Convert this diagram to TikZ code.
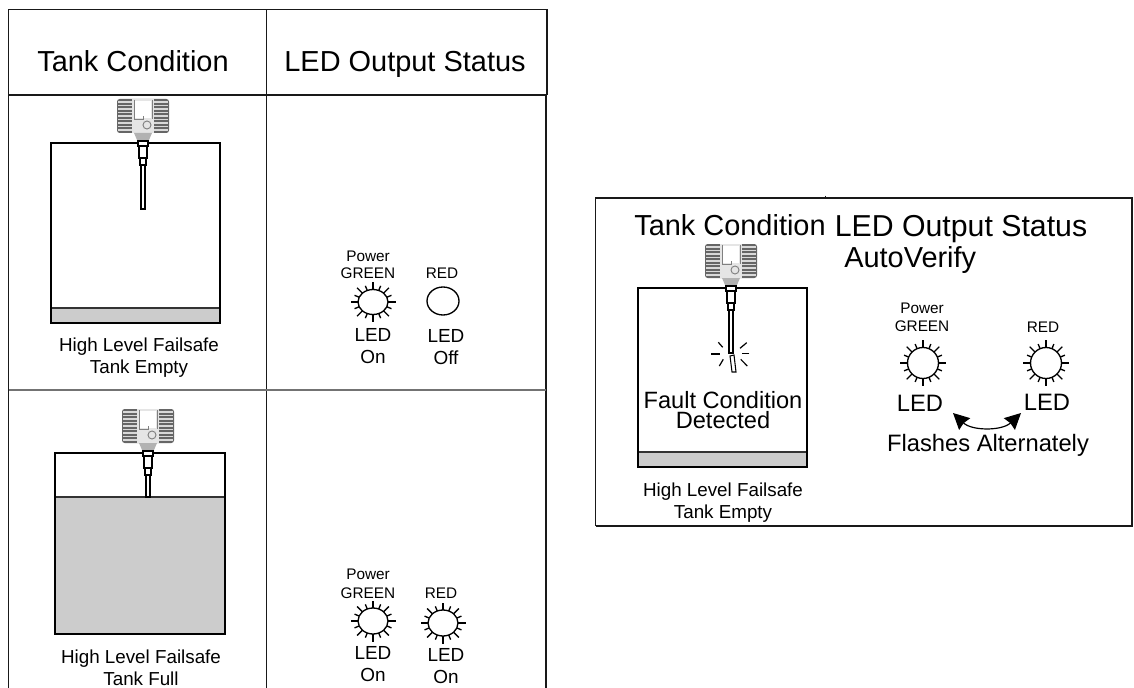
\documentclass[tikz,border=0pt]{standalone}
\usepackage{fontspec}
\setmainfont{Liberation Sans}
\usetikzlibrary{arrows.meta,positioning}
\tikzstyle{big} = [inner sep=0pt, text height=15.6pt, text depth=0pt, execute at begin node=\fontsize{21.7}{22}\selectfont]
\tikzstyle{bigger} = [inner sep=0pt, text height=16.3pt, text depth=0pt, execute at begin node=\fontsize{22.7}{23}\selectfont]
\tikzstyle{fault} = [inner sep=0pt, text height=12.7pt, text depth=0pt, execute at begin node=\fontsize{17.7}{18}\selectfont]
\tikzstyle{mid} = [inner sep=0pt, text height=12.8pt, text depth=0pt, execute at begin node=\fontsize{17.8}{18}\selectfont]
\tikzstyle{led} = [inner sep=0pt, text height=10.2pt, text depth=0pt, execute at begin node=\fontsize{14.2}{15}\selectfont]
\tikzstyle{caption} = [inner sep=0pt, text height=10.2pt, text depth=0pt, execute at begin node=\fontsize{14.1}{15}\selectfont]
\tikzstyle{tiny label} = [inner sep=0pt, text height=8.3pt, text depth=0pt, execute at begin node=\fontsize{11.5}{12}\selectfont]
\tikzstyle{frame} = [draw=black!90, line width=1.1pt]
\tikzstyle{tank} = [draw=black, line width=1.1pt]
\tikzstyle{liquid} = [draw=black!80, line width=0.9pt, fill=black!20]
\tikzstyle{rod} = [draw=black, line width=0.8pt, fill=white]
\tikzstyle{line} = [draw, line width=0.9pt, {Stealth[length=12pt,width=12pt,inset=1pt]}-{Stealth[length=12pt,width=12pt,inset=1pt]}]
% transmitter head and probe, origin where the probe enters the tank
\newcommand{\transmitter}[2]{
	\begin{scope}[shift={#1}]
		\fill[black!60, rounded corners=2pt] (-26,-44) rectangle (26,-10);
		\foreach \s in {-41,-37.5,...,-13} {
			\draw[black!15, line width=0.8pt] (-25,\s) -- (-11,\s);
			\draw[black!15, line width=0.8pt] (11,\s) -- (25,\s);
		}
		\fill[black!10] (-11,-44) rectangle (11,-10);
		\fill[white] (-8,-42) rectangle (8,-25);
		\draw[black!50, line width=0.7pt] (-9,-43) -- (-9,-24) -- (0,-24) -- (0,-27);
		\draw[black!50, line width=0.7pt] (9,-43) -- (9,-24);
		\draw[black!50, line width=0.7pt] (4,-18) circle (4);
		\fill[black!30] (-9,-10) -- (9,-10) -- (6,-3) -- (-6,-3) -- cycle;
		\path[rod] (-2,22) rectangle (2,#2);
		\path[rod] (-3,15) rectangle (3,22);
		\path[rod] (-4,3) rectangle (4,15);
		\path[rod] (-5,-2) rectangle (5,3);
	\end{scope}
}
% LED outline with rays
\newcommand{\ledring}[3]{
	\begin{scope}[shift={#1}, line width=1pt]
		\draw (0,0) ellipse (#2 and #3);
		\foreach \a in {0,45,...,315}
			\draw (\a:#2 and #3) -- (\a:#2+7.5 and #3+7.5);
		\foreach \a in {22.5,67.5,...,337.5}
			\draw (\a:#2 and #3) -- (\a:#2+5 and #3+5);
	\end{scope}
}
\begin{document}
\begin{tikzpicture}[x=0.75pt, y=-0.75pt]
	\useasboundingbox (0,0) rectangle (1134,688);

	%Table
	\path[frame] (8.5,688) -- (8.5,9.5) -- (547,9.5) -- (547,95);
	\path[frame] (266.5,9.5) -- (266.5,688);
	\path[frame] (8.5,95) -- (547,95);
	\path[frame] (546,95) -- (546,688);
	\path[draw=black!55, line width=1.3pt] (8.5,390) -- (546,390);

	%Right panel
	\path[draw=black!90, line width=0.9pt] (595.5,526) -- (595.5,198) -- (1132,198) -- (1132,526) -- (595.5,526);
	\path[draw=black!90, line width=0.7pt] (825,195.5) -- (825,198);

	%Tanks
	\path[liquid] (51,308) rectangle (220,323);
	\path[tank] (51,323) rectangle (220,143);
	\transmitter{(143,143)}{66}
	\path[liquid] (55,497) rectangle (225,634);
	\path[tank] (55,634) rectangle (225,453);
	\transmitter{(148,453)}{44}
	\path[liquid] (638,452) rectangle (807,467);
	\path[tank] (638,467) rectangle (807,288);
	\transmitter{(731,288)}{65}

	%Broken probe
	\path[rod] (730,356) -- (734,355) -- (736,372) -- (732,372) -- cycle;
	\begin{scope}[line width=0.9pt]
		\draw (718.3,342.3) -- (722.7,347.3);
		\draw (711,354) -- (720,354);
		\draw (719.3,366) -- (723.3,359.3);
		\draw (746.7,342.7) -- (740,348.3);
		\draw (749.3,353.3) -- (741.7,353.3);
		\draw (747.3,366) -- (740.7,359.3);
	\end{scope}

	%LEDs
	\ledring{(373,302)}{15}{12.5}
	\draw[line width=1pt] (443,301) ellipse (16 and 14);
	\ledring{(373,621)}{15}{13}
	\ledring{(443,623)}{15}{13}
	\ledring{(923,363)}{15.5}{15.5}
	\ledring{(1046,363)}{15.5}{15.5}

	%Place nodes
	\node [big] (TankHead) at (133,61) {Tank Condition};
	\node [big] (LedHead) at (405,61) {LED Output Status};
	\node [caption] (CaptionA) at (139,345) {High Level Failsafe};
	\node [caption, below of=CaptionA, node distance=16.5pt] (EmptyA) {Tank Empty};
	\node [caption] (CaptionB) at (141,657) {High Level Failsafe};
	\node [caption, below of=CaptionB, node distance=16pt] (FullB) {Tank Full};

	\node [tiny label] (PowerA) at (368,256) {Power};
	\node [tiny label, below of=PowerA, node distance=13pt] (GreenA) {GREEN};
	\node [tiny label] (RedA) at (442,273) {RED};
	\node [led] (LedOnA) at (373,335) {LED};
	\node [led, below of=LedOnA, node distance=16.5pt] (OnA) {On};
	\node [led] (LedOffA) at (446,336) {LED};
	\node [led, below of=LedOffA, node distance=16.5pt] (OffA) {Off};

	\node [tiny label] (PowerB) at (368,574) {Power};
	\node [tiny label, below of=PowerB, node distance=14pt] (GreenB) {GREEN};
	\node [tiny label] (RedB) at (441,593) {RED};
	\node [led] (LedOnB) at (373,653) {LED};
	\node [led, below of=LedOnB, node distance=16.5pt] (OnB) {On};
	\node [led] (LedOnC) at (446,655) {LED};
	\node [led, below of=LedOnC, node distance=16pt] (OnC) {On};

	\node [big] (TankHeadR) at (730,225) {Tank Condition};
	\node [bigger] (LedHeadR) at (961,226) {LED Output Status};
	\node [big, anchor=west] (AutoVerify) at (844,257) {AutoVerify};
	\node [fault] (FaultR) at (723,400) {Fault Condition};
	\node [fault] (DetectedR) at (723,420) {Detected};
	\node [caption] (CaptionR) at (723,490) {High Level Failsafe};
	\node [caption, below of=CaptionR, node distance=16.5pt] (EmptyR) {Tank Empty};

	\node [tiny label] (PowerR) at (922,308) {Power};
	\node [tiny label, below of=PowerR, node distance=13.5pt] (GreenR) {GREEN};
	\node [tiny label] (RedR) at (1043,327) {RED};
	\node [mid] (LedLeftR) at (920,403) {LED};
	\node [mid] (LedRightR) at (1047,402) {LED};
	\node [mid] (Flashes) at (988,443) {Flashes Alternately};

	\coordinate (AltLeft) at (953,413);
	\coordinate (AltRight) at (1021,413);
	\path [line] (AltLeft) .. controls (972,431) and (1002,431) .. (AltRight);
\end{tikzpicture}
\end{document}
